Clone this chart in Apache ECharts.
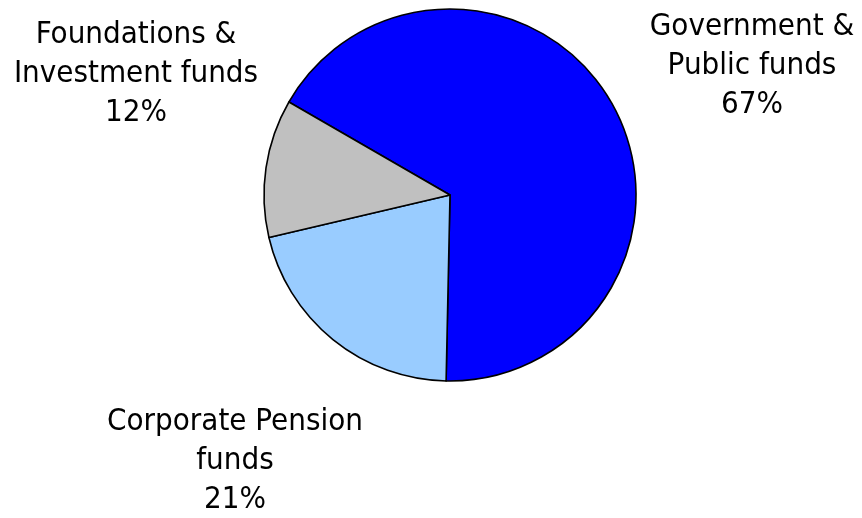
<!DOCTYPE html>
<html>
<head>
<meta charset="utf-8">
<script src="https://cdn.jsdelivr.net/npm/echarts@6/dist/echarts.min.js"></script>
<style>
  html, body { margin: 0; padding: 0; background: #ffffff; }
  #chart { width: 862px; height: 518px; }
</style>
</head>
<body>
<div id="chart"></div>
<script>
// Fund categories and their share (%)
const categories = ['Government &\nPublic funds', 'Corporate Pension\nfunds', 'Foundations &\nInvestment funds'];
const shares = [67, 21, 12];
const sliceColors = ['#0000FF', '#99CCFF', '#C0C0C0'];

// Where each label block sits (centre of the text block)
const labelSpots = [[752, 66], [235, 461], [136, 74]];

const chart = echarts.init(document.getElementById('chart'), null, { renderer: 'canvas' });

chart.setOption({
  animation: false,
  backgroundColor: '#ffffff',
  series: [{
    type: 'pie',
    center: [450, 195],
    radius: 186,
    startAngle: 150,
    clockwise: true,
    avoidLabelOverlap: false,
    data: categories.map((name, i) => ({
      name: name,
      value: shares[i],
      itemStyle: { color: sliceColors[i] }
    })),
    itemStyle: { borderColor: '#000000', borderWidth: 1.6 },
    label: {
      show: true,
      position: 'outside',
      formatter: '{b}\n{c}%',
      fontFamily: '"DejaVu Sans Condensed", Tahoma, "DejaVu Sans", sans-serif',
      fontSize: 31,
      lineHeight: 39,
      color: '#000000',
      align: 'center'
    },
    labelLine: { show: false },
    labelLayout: function (params) {
      const p = labelSpots[params.dataIndex];
      return { x: p[0], y: p[1], align: 'center', verticalAlign: 'middle', hideOverlap: false };
    },
    emphasis: { disabled: true }
  }]
});
</script>
</body>
</html>
